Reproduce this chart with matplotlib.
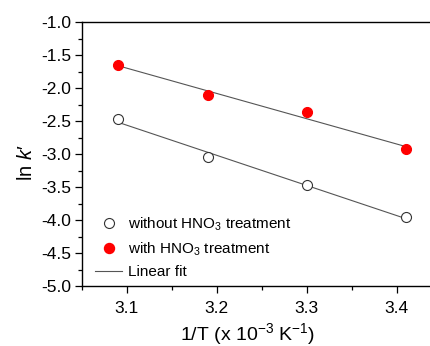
import matplotlib
matplotlib.use('Agg')
import matplotlib.pyplot as plt
import numpy as np
from matplotlib.ticker import MultipleLocator, FormatStrFormatter

plt.rcParams['font.family'] = 'Liberation Sans'
plt.rcParams['mathtext.fontset'] = 'custom'
plt.rcParams['mathtext.rm'] = 'Liberation Sans'
plt.rcParams['mathtext.it'] = 'Liberation Sans:italic'
plt.rcParams['mathtext.default'] = 'regular'

# data
inv_T = [3.09, 3.19, 3.30, 3.41]
lnk_without = [-2.47, -3.05, -3.47, -3.96]
lnk_with = [-1.65, -2.11, -2.37, -2.93]

fig = plt.figure(figsize=(4.31, 3.46), dpi=100)
ax = fig.add_axes([0.1903, 0.1734, 0.8346, 0.763])

# linear fits
x_fit = np.array([min(inv_T), max(inv_T)])
for y in (lnk_without, lnk_with):
    p = np.polyfit(inv_T, y, 1)
    ax.plot(x_fit, np.polyval(p, x_fit), color='#555555', lw=0.8, zorder=1)

ax.plot(inv_T, lnk_without, 'o', ms=7.2, mfc='white', mec='#333333', mew=0.8,
        ls='none', zorder=3)
ax.plot(inv_T, lnk_with, 'o', ms=7.2, mfc='red', mec='red', mew=0.8,
        ls='none', zorder=3)

# legend handles
h1 = plt.Line2D([], [], marker='o', ms=7.2, mfc='white', mec='#333333', mew=0.8, ls='none')
h2 = plt.Line2D([], [], marker='o', ms=7.2, mfc='red', mec='red', ls='none')
h3 = plt.Line2D([], [], color='#555555', lw=0.8)
ax.legend([h1, h2, h3],
          ['without HNO$_3$ treatment', 'with HNO$_3$ treatment', 'Linear fit'],
          loc='lower left', bbox_to_anchor=(0.006, -0.015), frameon=False,
          fontsize=11, handlelength=1.8, handletextpad=0.35,
          labelspacing=0.5, borderaxespad=0.3)

ax.set_xlim(3.05, 3.45)
ax.set_ylim(-5.0, -1.0)
ax.xaxis.set_major_locator(MultipleLocator(0.1))
ax.xaxis.set_minor_locator(MultipleLocator(0.05))
ax.yaxis.set_major_locator(MultipleLocator(0.5))
ax.yaxis.set_minor_locator(MultipleLocator(0.25))
ax.xaxis.set_major_formatter(FormatStrFormatter('%.1f'))
ax.yaxis.set_major_formatter(FormatStrFormatter('%.1f'))
ax.tick_params(which='major', length=5, width=0.9, labelsize=12.5, direction='out')
ax.tick_params(which='minor', length=3, width=0.9, direction='out')
ax.tick_params(axis='x', which='major', pad=6)
ax.tick_params(axis='y', which='major', pad=3)
for s in ax.spines.values():
    s.set_linewidth(1.0)

ax.set_xlabel('1/T (x 10$^{-3}$ K$^{-1}$)', fontsize=14)
ax.set_ylabel("ln $\\mathit{k}$\u2032", fontsize=14.5)
ax.xaxis.set_label_coords(0.4615, -0.132)
ax.yaxis.set_label_coords(-0.129, 0.466)

fig.savefig('out.png', dpi=100)
